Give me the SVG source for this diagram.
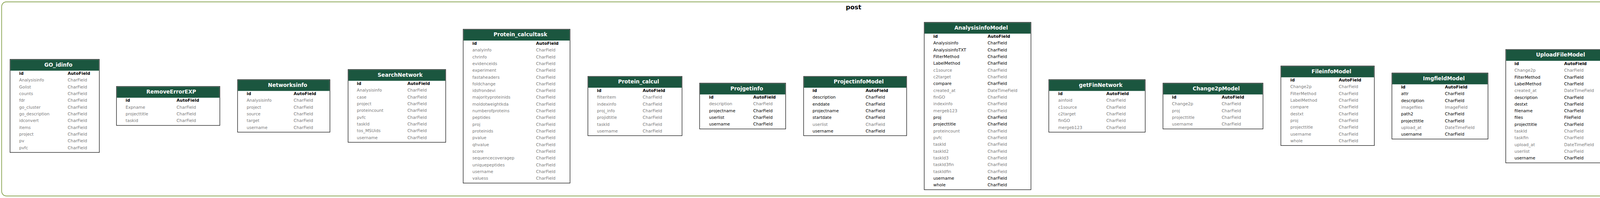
<svg xmlns="http://www.w3.org/2000/svg" width="4145" height="508" viewBox="0 0 4145 508">
<style>
.bg{fill:#ffffff}
.frame{fill:none;stroke:#698b22;stroke-width:1.4}
.box{fill:#ffffff;stroke:#000000;stroke-width:1.2}
.hdr{fill:#1b563f}
.ttl{font-family:"DejaVu Sans",sans-serif;font-size:13.33px;font-weight:bold;fill:#ffffff;text-anchor:middle}
.cl{font-family:"DejaVu Sans",sans-serif;font-size:16px;font-weight:bold;fill:#000000;text-anchor:middle}
text.r{font-family:"DejaVu Sans",sans-serif;font-size:10.67px}
.g{fill:#7b7b7b}
.k{fill:#000000}
.pk{fill:#000000;font-weight:bold}
</style>
<rect class="bg" x="0" y="0" width="4145" height="508"/>
<g id="cluster_post">
<rect class="frame" x="4.3" y="4.7" width="4134.7" height="498" rx="12" ry="12"/>
<text class="cl" x="2185" y="23.5">post</text>
</g>
<g id="connectors"></g>

<g id="GO_idinfo" transform="translate(25.7,152.3)">
<rect class="box" x="0" y="0" width="228.6" height="238.8"/>
<rect class="hdr" x="1" y="1" width="226.6" height="28"/>
<text class="ttl" x="123.8" y="18.3">GO_idinfo</text>
<text class="r pk" y="39.8"><tspan x="23.3">id</tspan><tspan x="147.5">AutoField</tspan></text>
<text class="r g" y="57.1"><tspan x="23.3">Analysisinfo</tspan><tspan x="147.5">CharField</tspan></text>
<text class="r g" y="74.5"><tspan x="23.3">Golist</tspan><tspan x="147.5">CharField</tspan></text>
<text class="r g" y="91.8"><tspan x="23.3">counts</tspan><tspan x="147.5">CharField</tspan></text>
<text class="r g" y="109.1"><tspan x="23.3">fdr</tspan><tspan x="147.5">CharField</tspan></text>
<text class="r g" y="126.5"><tspan x="23.3">go_cluster</tspan><tspan x="147.5">CharField</tspan></text>
<text class="r g" y="143.8"><tspan x="23.3">go_description</tspan><tspan x="147.5">CharField</tspan></text>
<text class="r g" y="161.1"><tspan x="23.3">idconvert</tspan><tspan x="147.5">CharField</tspan></text>
<text class="r g" y="178.4"><tspan x="23.3">items</tspan><tspan x="147.5">CharField</tspan></text>
<text class="r g" y="195.8"><tspan x="23.3">project</tspan><tspan x="147.5">CharField</tspan></text>
<text class="r g" y="213.1"><tspan x="23.3">pv</tspan><tspan x="147.5">CharField</tspan></text>
<text class="r g" y="230.4"><tspan x="23.3">pvfc</tspan><tspan x="147.5">CharField</tspan></text>
</g>

<g id="RemoveErrorEXP" transform="translate(298.2,221.7)">
<rect class="box" x="0" y="0" width="264.6" height="100.1"/>
<rect class="hdr" x="1" y="1" width="262.6" height="28"/>
<text class="ttl" x="140.2" y="18.3">RemoveErrorEXP</text>
<text class="r pk" y="39.8"><tspan x="23.3">id</tspan><tspan x="153.9">AutoField</tspan></text>
<text class="r g" y="57.1"><tspan x="23.3">Expname</tspan><tspan x="153.9">CharField</tspan></text>
<text class="r g" y="74.5"><tspan x="23.3">projecttitle</tspan><tspan x="153.9">CharField</tspan></text>
<text class="r g" y="91.8"><tspan x="23.3">taskid</tspan><tspan x="153.9">CharField</tspan></text>
</g>

<g id="Networksinfo" transform="translate(608.2,204.3)">
<rect class="box" x="0" y="0" width="236.4" height="134.8"/>
<rect class="hdr" x="1" y="1" width="234.4" height="28"/>
<text class="ttl" x="128.1" y="18.3">Networksinfo</text>
<text class="r pk" y="39.8"><tspan x="23.3">id</tspan><tspan x="143.6">AutoField</tspan></text>
<text class="r g" y="57.1"><tspan x="23.3">Analysisinfo</tspan><tspan x="143.6">CharField</tspan></text>
<text class="r g" y="74.5"><tspan x="23.3">project</tspan><tspan x="143.6">CharField</tspan></text>
<text class="r g" y="91.8"><tspan x="23.3">source</tspan><tspan x="143.6">CharField</tspan></text>
<text class="r g" y="109.1"><tspan x="23.3">target</tspan><tspan x="143.6">CharField</tspan></text>
<text class="r g" y="126.5"><tspan x="23.3">username</tspan><tspan x="143.6">CharField</tspan></text>
</g>

<g id="SearchNetwork" transform="translate(891.1,178.3)">
<rect class="box" x="0" y="0" width="249.9" height="186.8"/>
<rect class="hdr" x="1" y="1" width="247.9" height="28"/>
<text class="ttl" x="133.2" y="18.3">SearchNetwork</text>
<text class="r pk" y="39.8"><tspan x="22.5">id</tspan><tspan x="151.8">AutoField</tspan></text>
<text class="r g" y="57.1"><tspan x="22.5">Analysisinfo</tspan><tspan x="151.8">CharField</tspan></text>
<text class="r g" y="74.5"><tspan x="22.5">case</tspan><tspan x="151.8">CharField</tspan></text>
<text class="r g" y="91.8"><tspan x="22.5">project</tspan><tspan x="151.8">CharField</tspan></text>
<text class="r g" y="109.1"><tspan x="22.5">proteincount</tspan><tspan x="151.8">CharField</tspan></text>
<text class="r g" y="126.5"><tspan x="22.5">pvfc</tspan><tspan x="151.8">CharField</tspan></text>
<text class="r g" y="143.8"><tspan x="22.5">taskId</tspan><tspan x="151.8">CharField</tspan></text>
<text class="r g" y="161.1"><tspan x="22.5">tos_MSUids</tspan><tspan x="151.8">CharField</tspan></text>
<text class="r g" y="178.4"><tspan x="22.5">username</tspan><tspan x="151.8">CharField</tspan></text>
</g>

<g id="Protein_calcultask" transform="translate(1185.7,75)">
<rect class="box" x="0" y="0" width="273.6" height="394.7"/>
<rect class="hdr" x="1" y="1" width="271.6" height="28"/>
<text class="ttl" x="146.5" y="18.3">Protein_calcultask</text>
<text class="r pk" y="39.8"><tspan x="23.6">id</tspan><tspan x="186.6">AutoField</tspan></text>
<text class="r g" y="57.1"><tspan x="23.6">analyinfo</tspan><tspan x="186.6">CharField</tspan></text>
<text class="r g" y="74.5"><tspan x="23.6">chrinfo</tspan><tspan x="186.6">CharField</tspan></text>
<text class="r g" y="91.8"><tspan x="23.6">evidenceids</tspan><tspan x="186.6">CharField</tspan></text>
<text class="r g" y="109.1"><tspan x="23.6">experiment</tspan><tspan x="186.6">CharField</tspan></text>
<text class="r g" y="126.5"><tspan x="23.6">fastaheaders</tspan><tspan x="186.6">CharField</tspan></text>
<text class="r g" y="143.8"><tspan x="23.6">foldchange</tspan><tspan x="186.6">CharField</tspan></text>
<text class="r g" y="161.1"><tspan x="23.6">idsfrondevi</tspan><tspan x="186.6">CharField</tspan></text>
<text class="r g" y="178.4"><tspan x="23.6">majorityproteinids</tspan><tspan x="186.6">CharField</tspan></text>
<text class="r g" y="195.8"><tspan x="23.6">moldotweightkda</tspan><tspan x="186.6">CharField</tspan></text>
<text class="r g" y="213.1"><tspan x="23.6">numberofproteins</tspan><tspan x="186.6">CharField</tspan></text>
<text class="r g" y="230.4"><tspan x="23.6">peptides</tspan><tspan x="186.6">CharField</tspan></text>
<text class="r g" y="247.8"><tspan x="23.6">proj</tspan><tspan x="186.6">CharField</tspan></text>
<text class="r g" y="265.1"><tspan x="23.6">proteinids</tspan><tspan x="186.6">CharField</tspan></text>
<text class="r g" y="282.4"><tspan x="23.6">pvalue</tspan><tspan x="186.6">CharField</tspan></text>
<text class="r g" y="299.8"><tspan x="23.6">qhvalue</tspan><tspan x="186.6">CharField</tspan></text>
<text class="r g" y="317.1"><tspan x="23.6">score</tspan><tspan x="186.6">CharField</tspan></text>
<text class="r g" y="334.4"><tspan x="23.6">sequencecoveragep</tspan><tspan x="186.6">CharField</tspan></text>
<text class="r g" y="351.7"><tspan x="23.6">uniquepeptides</tspan><tspan x="186.6">CharField</tspan></text>
<text class="r g" y="369.1"><tspan x="23.6">username</tspan><tspan x="186.6">CharField</tspan></text>
<text class="r g" y="386.4"><tspan x="23.6">valuess</tspan><tspan x="186.6">CharField</tspan></text>
</g>

<g id="Protein_calcul" transform="translate(1505,196)">
<rect class="box" x="0" y="0" width="241" height="152.1"/>
<rect class="hdr" x="1" y="1" width="239" height="28"/>
<text class="ttl" x="129.8" y="18.3">Protein_calcul</text>
<text class="r pk" y="39.8"><tspan x="23.3">id</tspan><tspan x="140.3">AutoField</tspan></text>
<text class="r g" y="57.1"><tspan x="23.3">filteritem</tspan><tspan x="140.3">CharField</tspan></text>
<text class="r g" y="74.5"><tspan x="23.3">indexinfo</tspan><tspan x="140.3">CharField</tspan></text>
<text class="r g" y="91.8"><tspan x="23.3">proj_info</tspan><tspan x="140.3">CharField</tspan></text>
<text class="r g" y="109.1"><tspan x="23.3">projidtitle</tspan><tspan x="140.3">CharField</tspan></text>
<text class="r g" y="126.5"><tspan x="23.3">taskId</tspan><tspan x="140.3">CharField</tspan></text>
<text class="r g" y="143.8"><tspan x="23.3">username</tspan><tspan x="140.3">CharField</tspan></text>
</g>

<g id="Projgetinfo" transform="translate(1791,213.3)">
<rect class="box" x="0" y="0" width="220.3" height="117.5"/>
<rect class="hdr" x="1" y="1" width="218.3" height="28"/>
<text class="ttl" x="120.7" y="18.3">Projgetinfo</text>
<text class="r pk" y="39.8"><tspan x="24.3">id</tspan><tspan x="137.3">AutoField</tspan></text>
<text class="r g" y="57.1"><tspan x="24.3">description</tspan><tspan x="137.3">CharField</tspan></text>
<text class="r k" y="74.5"><tspan x="24.3">projectname</tspan><tspan x="137.3">CharField</tspan></text>
<text class="r k" y="91.8"><tspan x="24.3">userlist</tspan><tspan x="137.3">CharField</tspan></text>
<text class="r k" y="109.1"><tspan x="24.3">username</tspan><tspan x="137.3">CharField</tspan></text>
</g>

<g id="ProjectinfoModel" transform="translate(2057.3,196)">
<rect class="box" x="0" y="0" width="263.7" height="152.1"/>
<rect class="hdr" x="1" y="1" width="261.7" height="28"/>
<text class="ttl" x="141" y="18.3">ProjectinfoModel</text>
<text class="r pk" y="39.8"><tspan x="22.7">id</tspan><tspan x="158.7">AutoField</tspan></text>
<text class="r k" y="57.1"><tspan x="22.7">description</tspan><tspan x="158.7">CharField</tspan></text>
<text class="r k" y="74.5"><tspan x="22.7">enddate</tspan><tspan x="158.7">CharField</tspan></text>
<text class="r k" y="91.8"><tspan x="22.7">projectname</tspan><tspan x="158.7">CharField</tspan></text>
<text class="r k" y="109.1"><tspan x="22.7">startdate</tspan><tspan x="158.7">CharField</tspan></text>
<text class="r g" y="126.5"><tspan x="22.7">userlist</tspan><tspan x="158.7">CharField</tspan></text>
<text class="r k" y="143.8"><tspan x="22.7">username</tspan><tspan x="158.7">CharField</tspan></text>
</g>

<g id="AnalysisinfoModel" transform="translate(2366,57.3)">
<rect class="box" x="0" y="0" width="273.3" height="429.4"/>
<rect class="hdr" x="1" y="1" width="271.3" height="28"/>
<text class="ttl" x="145.7" y="18.3">AnalysisinfoModel</text>
<text class="r pk" y="39.8"><tspan x="23.3">id</tspan><tspan x="162.3">AutoField</tspan></text>
<text class="r k" y="57.1"><tspan x="23.3">Analysisinfo</tspan><tspan x="162.3">CharField</tspan></text>
<text class="r k" y="74.5"><tspan x="23.3">AnalysisinfoTXT</tspan><tspan x="162.3">CharField</tspan></text>
<text class="r k" y="91.8"><tspan x="23.3">FilterMethod</tspan><tspan x="162.3">CharField</tspan></text>
<text class="r k" y="109.1"><tspan x="23.3">LabelMethod</tspan><tspan x="162.3">CharField</tspan></text>
<text class="r g" y="126.5"><tspan x="23.3">c1source</tspan><tspan x="162.3">CharField</tspan></text>
<text class="r g" y="143.8"><tspan x="23.3">c2target</tspan><tspan x="162.3">CharField</tspan></text>
<text class="r k" y="161.1"><tspan x="23.3">compare</tspan><tspan x="162.3">CharField</tspan></text>
<text class="r g" y="178.4"><tspan x="23.3">created_at</tspan><tspan x="162.3">DateTimeField</tspan></text>
<text class="r g" y="195.8"><tspan x="23.3">finGO</tspan><tspan x="162.3">CharField</tspan></text>
<text class="r g" y="213.1"><tspan x="23.3">indexinfo</tspan><tspan x="162.3">CharField</tspan></text>
<text class="r g" y="230.4"><tspan x="23.3">mergeb123</tspan><tspan x="162.3">CharField</tspan></text>
<text class="r k" y="247.8"><tspan x="23.3">proj</tspan><tspan x="162.3">CharField</tspan></text>
<text class="r k" y="265.1"><tspan x="23.3">projecttitle</tspan><tspan x="162.3">CharField</tspan></text>
<text class="r g" y="282.4"><tspan x="23.3">proteincount</tspan><tspan x="162.3">CharField</tspan></text>
<text class="r g" y="299.8"><tspan x="23.3">pvfc</tspan><tspan x="162.3">CharField</tspan></text>
<text class="r g" y="317.1"><tspan x="23.3">taskId</tspan><tspan x="162.3">CharField</tspan></text>
<text class="r g" y="334.4"><tspan x="23.3">taskId2</tspan><tspan x="162.3">CharField</tspan></text>
<text class="r g" y="351.7"><tspan x="23.3">taskId3</tspan><tspan x="162.3">CharField</tspan></text>
<text class="r g" y="369.1"><tspan x="23.3">taskId3fin</tspan><tspan x="162.3">CharField</tspan></text>
<text class="r g" y="386.4"><tspan x="23.3">taskIdfin</tspan><tspan x="162.3">CharField</tspan></text>
<text class="r k" y="403.7"><tspan x="23.3">username</tspan><tspan x="162.3">CharField</tspan></text>
<text class="r k" y="421.1"><tspan x="23.3">whole</tspan><tspan x="162.3">CharField</tspan></text>
</g>

<g id="getFinNetwork" transform="translate(2684.9,204.3)">
<rect class="box" x="0" y="0" width="246.8" height="134.8"/>
<rect class="hdr" x="1" y="1" width="244.8" height="28"/>
<text class="ttl" x="133" y="18.3">getFinNetwork</text>
<text class="r pk" y="39.8"><tspan x="24.1">id</tspan><tspan x="147.3">AutoField</tspan></text>
<text class="r g" y="57.1"><tspan x="24.1">ainfoid</tspan><tspan x="147.3">CharField</tspan></text>
<text class="r g" y="74.5"><tspan x="24.1">c1source</tspan><tspan x="147.3">CharField</tspan></text>
<text class="r g" y="91.8"><tspan x="24.1">c2target</tspan><tspan x="147.3">CharField</tspan></text>
<text class="r g" y="109.1"><tspan x="24.1">finGO</tspan><tspan x="147.3">CharField</tspan></text>
<text class="r g" y="126.5"><tspan x="24.1">mergeb123</tspan><tspan x="147.3">CharField</tspan></text>
</g>

<g id="Change2pModel" transform="translate(2977.2,213.3)">
<rect class="box" x="0" y="0" width="256.1" height="117.5"/>
<rect class="hdr" x="1" y="1" width="254.1" height="28"/>
<text class="ttl" x="136.3" y="18.3">Change2pModel</text>
<text class="r pk" y="39.8"><tspan x="23.1">id</tspan><tspan x="150.2">AutoField</tspan></text>
<text class="r g" y="57.1"><tspan x="23.1">Change2p</tspan><tspan x="150.2">CharField</tspan></text>
<text class="r g" y="74.5"><tspan x="23.1">proj</tspan><tspan x="150.2">CharField</tspan></text>
<text class="r g" y="91.8"><tspan x="23.1">projecttitle</tspan><tspan x="150.2">CharField</tspan></text>
<text class="r g" y="109.1"><tspan x="23.1">username</tspan><tspan x="150.2">CharField</tspan></text>
</g>

<g id="FileinfoModel" transform="translate(3279,169.3)">
<rect class="box" x="0" y="0" width="239.3" height="204.1"/>
<rect class="hdr" x="1" y="1" width="237.3" height="28"/>
<text class="ttl" x="129.5" y="18.3">FileinfoModel</text>
<text class="r pk" y="39.8"><tspan x="24.3">id</tspan><tspan x="148.3">AutoField</tspan></text>
<text class="r g" y="57.1"><tspan x="24.3">Change2p</tspan><tspan x="148.3">CharField</tspan></text>
<text class="r g" y="74.5"><tspan x="24.3">FilterMethod</tspan><tspan x="148.3">CharField</tspan></text>
<text class="r g" y="91.8"><tspan x="24.3">LabelMethod</tspan><tspan x="148.3">CharField</tspan></text>
<text class="r g" y="109.1"><tspan x="24.3">compare</tspan><tspan x="148.3">CharField</tspan></text>
<text class="r g" y="126.5"><tspan x="24.3">destxt</tspan><tspan x="148.3">CharField</tspan></text>
<text class="r g" y="143.8"><tspan x="24.3">proj</tspan><tspan x="148.3">CharField</tspan></text>
<text class="r g" y="161.1"><tspan x="24.3">projecttitle</tspan><tspan x="148.3">CharField</tspan></text>
<text class="r g" y="178.4"><tspan x="24.3">username</tspan><tspan x="148.3">CharField</tspan></text>
<text class="r g" y="195.8"><tspan x="24.3">whole</tspan><tspan x="148.3">CharField</tspan></text>
</g>

<g id="ImgfieldModel" transform="translate(3563.3,187.3)">
<rect class="box" x="0" y="0" width="246" height="169.4"/>
<rect class="hdr" x="1" y="1" width="244" height="28"/>
<text class="ttl" x="133" y="18.3">ImgfieldModel</text>
<text class="r pk" y="39.8"><tspan x="23.4">id</tspan><tspan x="135.7">AutoField</tspan></text>
<text class="r k" y="57.1"><tspan x="23.4">attr</tspan><tspan x="135.7">CharField</tspan></text>
<text class="r k" y="74.5"><tspan x="23.4">description</tspan><tspan x="135.7">CharField</tspan></text>
<text class="r g" y="91.8"><tspan x="23.4">imagefiles</tspan><tspan x="135.7">ImageField</tspan></text>
<text class="r k" y="109.1"><tspan x="23.4">path2</tspan><tspan x="135.7">CharField</tspan></text>
<text class="r k" y="126.5"><tspan x="23.4">projecttitle</tspan><tspan x="135.7">CharField</tspan></text>
<text class="r g" y="143.8"><tspan x="23.4">upload_at</tspan><tspan x="135.7">DateTimeField</tspan></text>
<text class="r k" y="161.1"><tspan x="23.4">username</tspan><tspan x="135.7">CharField</tspan></text>
</g>

<g id="UploadFileModel" transform="translate(3854.7,127)">
<rect class="box" x="0" y="0" width="264" height="290.8"/>
<rect class="hdr" x="1" y="1" width="262" height="28"/>
<text class="ttl" x="140.3" y="18.3">UploadFileModel</text>
<text class="r pk" y="39.8"><tspan x="22.3">id</tspan><tspan x="149.6">AutoField</tspan></text>
<text class="r g" y="57.1"><tspan x="22.3">Change2p</tspan><tspan x="149.6">CharField</tspan></text>
<text class="r k" y="74.5"><tspan x="22.3">FilterMethod</tspan><tspan x="149.6">CharField</tspan></text>
<text class="r k" y="91.8"><tspan x="22.3">LabelMethod</tspan><tspan x="149.6">CharField</tspan></text>
<text class="r g" y="109.1"><tspan x="22.3">created_at</tspan><tspan x="149.6">DateTimeField</tspan></text>
<text class="r k" y="126.5"><tspan x="22.3">description</tspan><tspan x="149.6">CharField</tspan></text>
<text class="r k" y="143.8"><tspan x="22.3">destxt</tspan><tspan x="149.6">CharField</tspan></text>
<text class="r k" y="161.1"><tspan x="22.3">filename</tspan><tspan x="149.6">CharField</tspan></text>
<text class="r k" y="178.4"><tspan x="22.3">files</tspan><tspan x="149.6">FileField</tspan></text>
<text class="r k" y="195.8"><tspan x="22.3">projecttitle</tspan><tspan x="149.6">CharField</tspan></text>
<text class="r g" y="213.1"><tspan x="22.3">taskId</tspan><tspan x="149.6">CharField</tspan></text>
<text class="r g" y="230.4"><tspan x="22.3">taskfin</tspan><tspan x="149.6">CharField</tspan></text>
<text class="r g" y="247.8"><tspan x="22.3">upload_at</tspan><tspan x="149.6">DateTimeField</tspan></text>
<text class="r g" y="265.1"><tspan x="22.3">userlist</tspan><tspan x="149.6">CharField</tspan></text>
<text class="r k" y="282.4"><tspan x="22.3">username</tspan><tspan x="149.6">CharField</tspan></text>
</g>
</svg>
